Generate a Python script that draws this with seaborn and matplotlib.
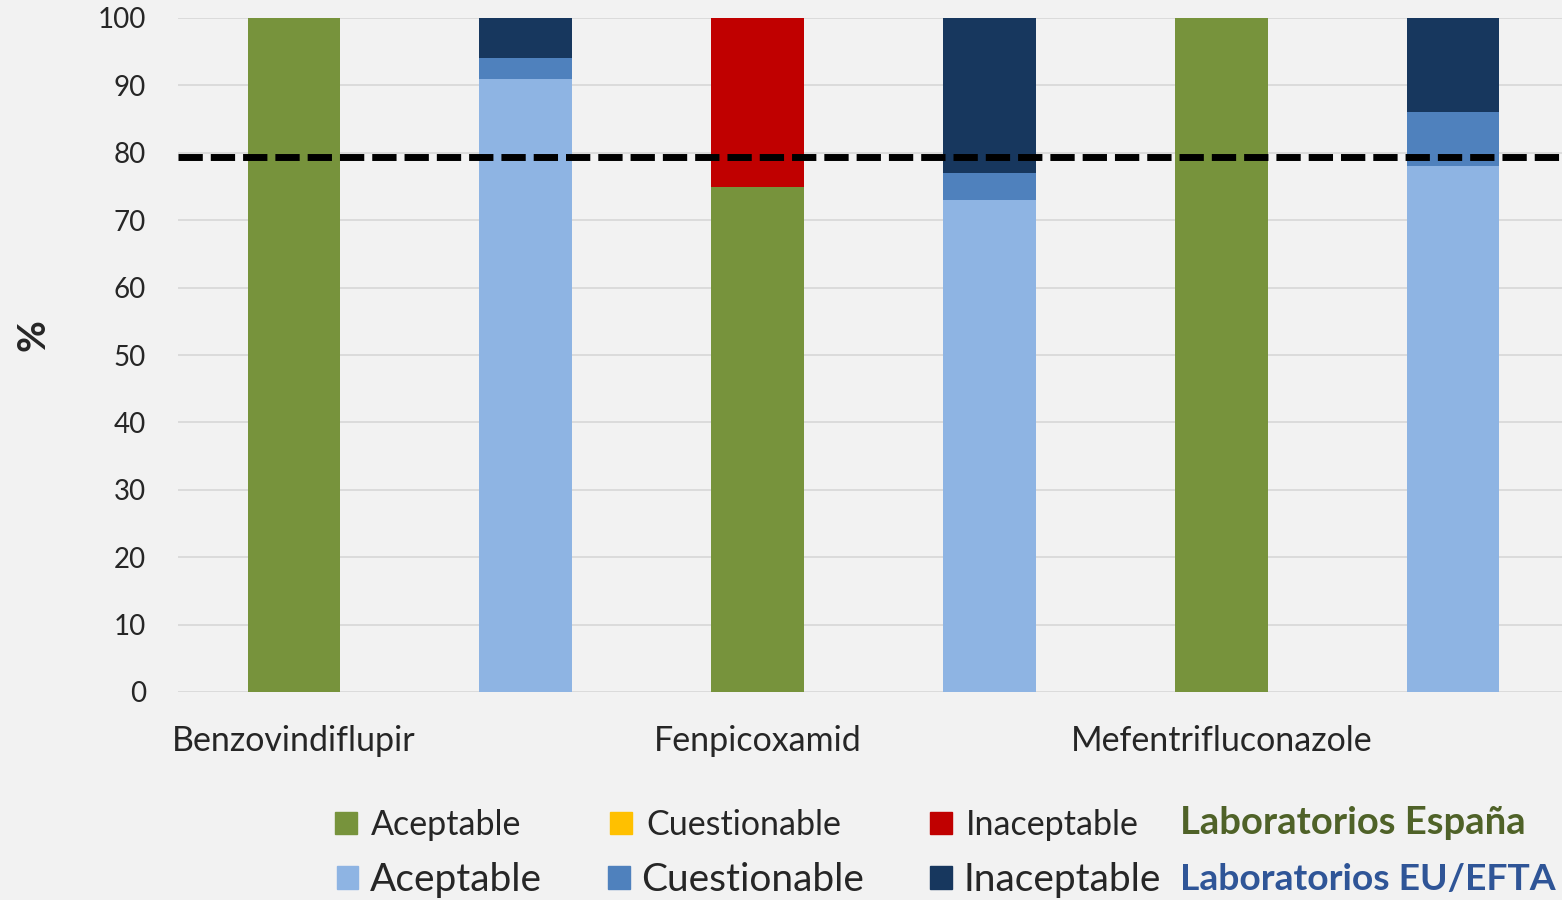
import matplotlib
matplotlib.use("Agg")
import matplotlib.pyplot as plt
import matplotlib.patches as mpatches
import seaborn as sns
import pandas as pd

# ---- data ----
compounds = ["Benzovindiflupir", "Fenpicoxamid", "Mefentrifluconazole"]
labs = ["España", "EU/EFTA"]
es_aceptable = [100, 75, 100]
es_cuestionable = [0, 0, 0]
es_inaceptable = [0, 25, 0]
eu_aceptable = [91, 73, 78]
eu_cuestionable = [3, 4, 8]
eu_inaceptable = [6, 23, 14]
y_ticks = [0, 10, 20, 30, 40, 50, 60, 70, 80, 90, 100]
threshold = 79.4
legend_labels = ["Aceptable", "Cuestionable", "Inaceptable"]

# ---- colours ----
es_colors = ["#77933c", "#ffc000", "#c00000"]
eu_colors = ["#8eb4e3", "#4f81bd", "#17375e"]
bg = "#f2f2f2"

rows = []
for i, c in enumerate(compounds):
    rows.append(dict(key=f"{c}|ES", lab="España", acc=es_aceptable[i],
                     q=es_cuestionable[i], inac=es_inaceptable[i]))
    rows.append(dict(key=f"{c}|EU", lab="EU/EFTA", acc=eu_aceptable[i],
                     q=eu_cuestionable[i], inac=eu_inaceptable[i]))
df = pd.DataFrame(rows)
df["c1"] = df["acc"]
df["c2"] = df["acc"] + df["q"]
df["c3"] = df["acc"] + df["q"] + df["inac"]
order = list(df["key"])

sns.set_style("white", {"axes.facecolor": bg, "figure.facecolor": bg})
plt.rcParams["font.family"] = ["Lato", "DejaVu Sans"]

fig = plt.figure(figsize=(15.62, 9), dpi=100, facecolor=bg)
ax = fig.add_axes([178 / 1562, (900 - 692) / 900, (1569 - 178) / 1562, (692 - 18) / 900])
ax.set_facecolor(bg)

for col, k in [("c3", 2), ("c2", 1), ("c1", 0)]:
    sns.barplot(data=df, x="key", y=col, hue="lab", order=order,
                hue_order=labs, palette={"España": es_colors[k], "EU/EFTA": eu_colors[k]},
                dodge=False, width=0.4, legend=False, ax=ax, linewidth=0,
                saturation=1, errorbar=None, zorder=2)

ax.set_xlim(-0.5, 5.5)
ax.set_ylim(0, 100)
ax.set_yticks(y_ticks)
ax.yaxis.grid(True, color="#d9d9d9", linewidth=1.3, zorder=0)
ax.set_axisbelow(True)
for s in ax.spines.values():
    s.set_visible(False)
ax.tick_params(axis="both", length=0)
ax.tick_params(axis="y", labelsize=20, pad=23)
ax.set_xticks(range(len(order)))
xt = []
for c in compounds:
    xt += [c, ""]
ax.set_xticklabels(xt, fontsize=24.5)
ax.tick_params(axis="x", pad=24)
ax.set_xlabel("")
ax.set_ylabel("%", fontsize=28, fontweight="bold", rotation=90)
ax.yaxis.set_label_coords(-0.092, 0.53)

ax.axhline(threshold, color="black", linewidth=5, linestyle=(0, (3.5, 1.15)), zorder=5)

# ---- legends ----
h1 = [mpatches.Patch(color=c) for c in es_colors]
h2 = [mpatches.Patch(color=c) for c in eu_colors]
common = dict(loc="center left", ncol=3, frameon=False, borderpad=0, borderaxespad=0)
l1 = fig.legend(h1, legend_labels, bbox_to_anchor=(335 / 1562, (900 - 825) / 900),
                fontsize=24.5, handlelength=0.65, handleheight=0.65, handletextpad=0.4,
                columnspacing=2.62, **common)
l2 = fig.legend(h2, legend_labels, bbox_to_anchor=(337 / 1562, (900 - 880) / 900),
                fontsize=28, handlelength=0.55, handleheight=0.55, handletextpad=0.3,
                columnspacing=1.7, **common)
fig.text(1180 / 1562, (900 - 823) / 900, "Laboratorios España", fontsize=27.5,
         fontweight="bold", color="#4f6228", va="center", ha="left")
fig.text(1180 / 1562, (900 - 880) / 900, "Laboratorios EU/EFTA", fontsize=26.8,
         fontweight="bold", color="#2f5597", va="center", ha="left")

fig.savefig("out.png", dpi=100, facecolor=bg)
